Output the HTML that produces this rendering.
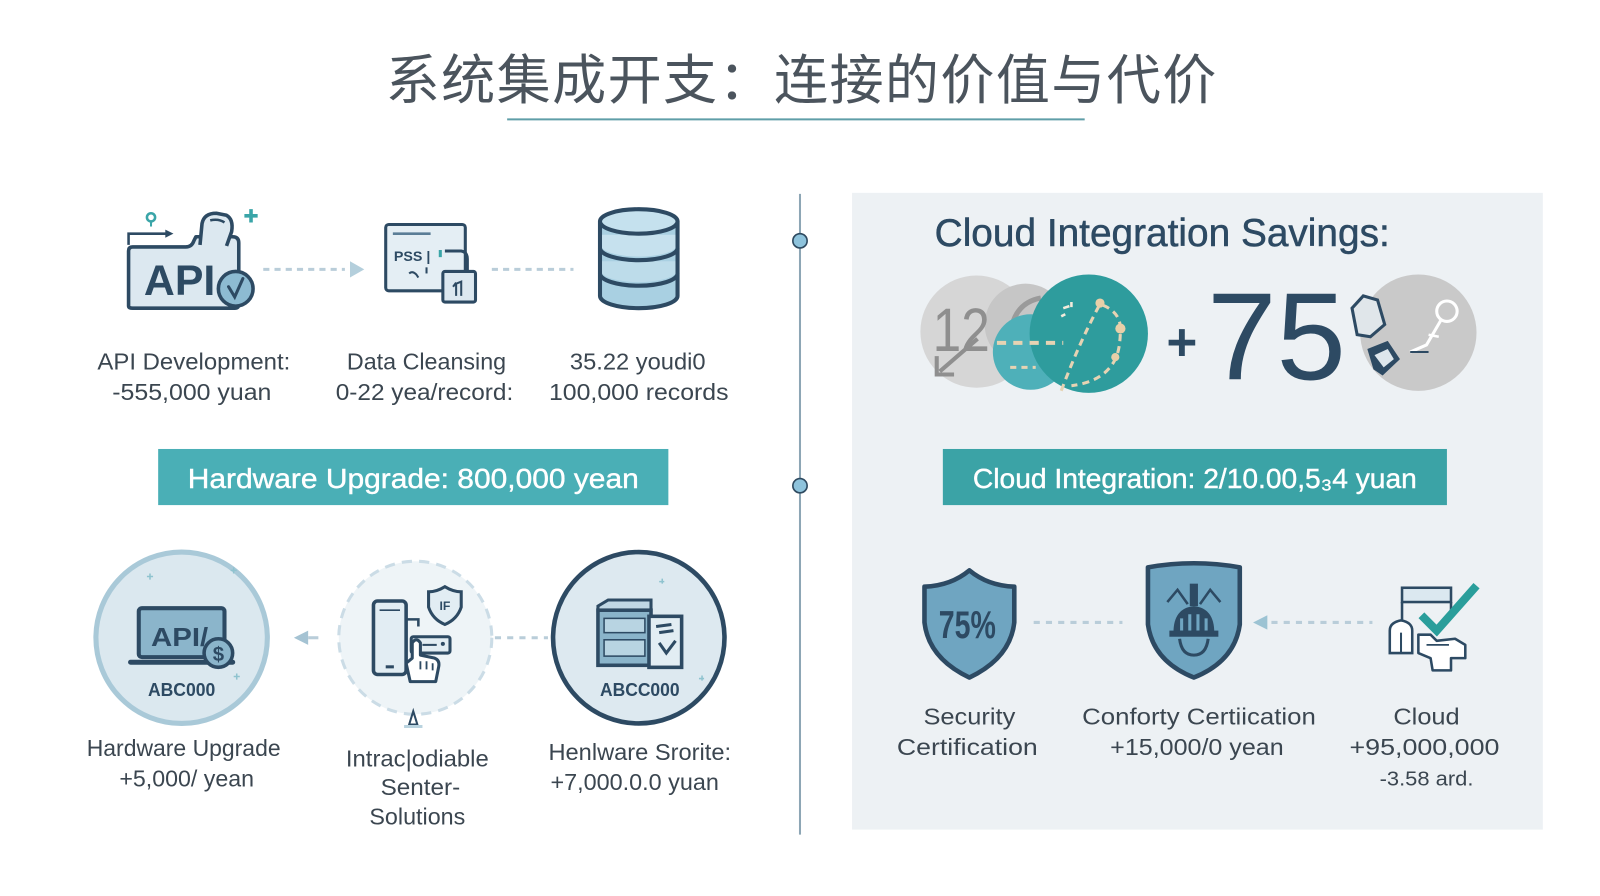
<!DOCTYPE html>
<html>
<head>
<meta charset="utf-8">
<style>
html,body{margin:0;padding:0;background:#fff;}
body{width:1600px;height:896px;overflow:hidden;}
svg{display:block;}
</style>
</head>
<body>
<svg width="1600" height="896" viewBox="0 0 1600 896" font-family="'Liberation Sans','DejaVu Sans',sans-serif">
<rect width="1600" height="896" fill="#ffffff"/>
<g transform="scale(1.0204)">

<!-- Title -->
<text x="378" y="97" font-size="53" textLength="814" lengthAdjust="spacing" fill="#4b545d" font-family="'Noto Sans CJK SC','WenQuanYi Zen Hei',sans-serif">系统集成开支：连接的价值与代价</text>
<line x1="497" y1="117" x2="1063" y2="117" stroke="#5f9ea8" stroke-width="2"/>

<!-- Right panel -->
<rect x="835" y="189" width="677" height="624" fill="#edf1f4"/>

<!-- Vertical divider -->
<line x1="784" y1="190" x2="784" y2="818" stroke="#8da6b5" stroke-width="2"/>
<circle cx="784" cy="236" r="7" fill="#8ec3dc" stroke="#2f4a60" stroke-width="1.6"/>
<circle cx="784" cy="476" r="7" fill="#8ec3dc" stroke="#2f4a60" stroke-width="1.6"/>

<!-- ===== Top-left icons ===== -->
<path d="M126,300 L126,246 Q126,242 130,242 L182,242 Q188,242 190,236 L192,232 L228,232 Q234,232 234,238 L234,298 Q234,302 230,302 L130,302 Q126,302 126,300Z" fill="#dce8f0" stroke="#2d4a63" stroke-width="3.5" stroke-linejoin="round"/>
<path d="M196,240 L198,219 Q200,209 212,209 L222,211 Q229,215 227,227 L222,241" fill="#dce8f0" stroke="#2d4a63" stroke-width="3.5" stroke-linejoin="round"/>
<path d="M206,216 Q214,214 220,218" fill="none" stroke="#2d4a63" stroke-width="2.5"/>
<text x="141" y="289" font-size="42" font-weight="bold" fill="#2d4a63" textLength="70" lengthAdjust="spacingAndGlyphs">API</text>
<circle cx="231" cy="283" r="17" fill="#8dbbd2" stroke="#2d4a63" stroke-width="3.5"/>
<path d="M224,281 L230,291 L238,273" stroke="#2d4a63" stroke-width="3" fill="none" stroke-linecap="round"/>
<path d="M126,240 L126,229 L164,229" stroke="#2d4a63" stroke-width="2.5" fill="none"/>
<path d="M162,225 L170,229 L162,233Z" fill="#2d4a63"/>
<path d="M246,205 V218 M239.5,211.5 H252.5" stroke="#3aa5a8" stroke-width="3.5"/>
<circle cx="148" cy="213" r="4" fill="none" stroke="#3aa5a8" stroke-width="2.5"/>
<line x1="148" y1="217" x2="148" y2="222" stroke="#3aa5a8" stroke-width="2"/>

<line x1="258" y1="264" x2="338" y2="264" stroke="#b9cdd9" stroke-width="3" stroke-dasharray="6,5"/>
<path d="M343,256 L357,264 L343,272Z" fill="#b4cfdc"/>

<rect x="378" y="220" width="78" height="65" rx="3" fill="#e4eef4" stroke="#2d4a63" stroke-width="3"/>
<line x1="385" y1="229" x2="422" y2="229" stroke="#5a7d96" stroke-width="2.5"/>
<text x="386" y="256" font-size="14" font-weight="bold" fill="#2d4a63">PSS |</text>
<rect x="430" y="245" width="3" height="7" fill="#3aa5a8"/>
<path d="M401,268 Q404,265 408,269 L410,272" stroke="#2d4a63" stroke-width="2" fill="none"/>
<line x1="418" y1="262" x2="418" y2="268" stroke="#2d4a63" stroke-width="2"/>
<path d="M436,246 L452,246 Q458,247 458,254 L458,268" fill="none" stroke="#2d4a63" stroke-width="3"/>
<rect x="434" y="266" width="32" height="30" rx="2" fill="#dce8f0" stroke="#2d4a63" stroke-width="3"/>
<path d="M447,290 L447,278 L452,276 L452,290 M444,281 L447,277" stroke="#2d4a63" stroke-width="2" fill="none"/>

<line x1="482" y1="264" x2="562" y2="264" stroke="#b9cdd9" stroke-width="3" stroke-dasharray="6,5"/>

<path d="M588,217 L588,290 A38,12 0 0 0 664,290 L664,217" fill="#a9d0e2" stroke="#2d4a63" stroke-width="4"/>
<path d="M590,230 L662,230 L662,243 A37,11 0 0 1 590,243Z" fill="#c6e1ee"/>
<path d="M590,256 L662,256 L662,268 A37,11 0 0 1 590,268Z" fill="#c6e1ee" opacity="0.7"/>
<path d="M588,243 A38,12 0 0 0 664,243" fill="none" stroke="#2d4a63" stroke-width="4"/>
<path d="M588,268 A38,12 0 0 0 664,268" fill="none" stroke="#2d4a63" stroke-width="4"/>
<ellipse cx="626" cy="217" rx="38" ry="12" fill="#c5e1ee" stroke="#2d4a63" stroke-width="4"/>

<g font-size="23" fill="#3b4650" text-anchor="middle" lengthAdjust="spacingAndGlyphs">
<text x="190" y="362" textLength="189" lengthAdjust="spacingAndGlyphs">API Development:</text>
<text x="188" y="392" textLength="156" lengthAdjust="spacingAndGlyphs">-555,000 yuan</text>
<text x="418" y="362" textLength="156" lengthAdjust="spacingAndGlyphs">Data Cleansing</text>
<text x="416" y="392" textLength="174" lengthAdjust="spacingAndGlyphs">0-22 yea/record:</text>
<text x="625" y="362" textLength="133" lengthAdjust="spacingAndGlyphs">35.22 youdi0</text>
<text x="626" y="392" textLength="176" lengthAdjust="spacingAndGlyphs">100,000 records</text>
</g>

<rect x="155" y="440" width="500" height="55" fill="#4aafb6"/>
<text x="405" y="478" text-anchor="middle" font-size="27" fill="#ffffff" stroke="#ffffff" stroke-width="0.4" textLength="442" lengthAdjust="spacingAndGlyphs">Hardware Upgrade: 800,000 yean</text>

<!-- ===== Bottom-left circles ===== -->
<circle cx="178" cy="625" r="84" fill="#dbe8ef" stroke="#a9c9d8" stroke-width="5"/>
<path d="M147,562 v6 M144,565 h6 M232,660 v6 M229,663 h6 M229,556 v6 M226,559 h6" stroke="#8fc3cf" stroke-width="1.5"/>
<rect x="136" y="596" width="84" height="48" rx="3" fill="#8bb5cb" stroke="#2d4a63" stroke-width="4"/>
<line x1="128" y1="649" x2="228" y2="649" stroke="#2d4a63" stroke-width="5" stroke-linecap="round"/>
<text x="148" y="633" font-size="25" font-weight="bold" fill="#2d4a63" textLength="56" lengthAdjust="spacingAndGlyphs">API/</text>
<circle cx="214" cy="640" r="14" fill="#8bb5cb" stroke="#2d4a63" stroke-width="3.5"/>
<text x="214" y="648" text-anchor="middle" font-size="20" font-weight="bold" fill="#2d4a63">$</text>
<text x="178" y="682" text-anchor="middle" font-size="18" font-weight="bold" fill="#2d4a63" textLength="66" lengthAdjust="spacingAndGlyphs">ABC000</text>

<path d="M302,618 L288,625 L302,632Z" fill="#a5c3d3"/>
<line x1="302" y1="625" x2="312" y2="625" stroke="#b9cdd9" stroke-width="3"/>

<circle cx="407" cy="625" r="75" fill="#eef4f7" stroke="#cbdce6" stroke-width="3" stroke-dasharray="10,7"/>
<rect x="366" y="589" width="32" height="72" rx="4" fill="#e2edf3" stroke="#2d4a63" stroke-width="3.5"/>
<line x1="372" y1="598" x2="392" y2="598" stroke="#2d4a63" stroke-width="1.5"/>
<rect x="378" y="652" width="8" height="3" fill="#2d4a63"/>
<path d="M436,575 Q428,580 420,580 L420,595 Q424,607 436,612 Q448,607 452,595 L452,580 Q444,580 436,575Z" fill="#e2edf3" stroke="#2d4a63" stroke-width="3"/>
<text x="436" y="598" text-anchor="middle" font-size="12" font-weight="bold" fill="#2d4a63">IF</text>
<path d="M398,607 L410,607 L410,614" fill="none" stroke="#2d4a63" stroke-width="2.5"/>
<rect x="403" y="624" width="38" height="16" rx="2" fill="#e2edf3" stroke="#2d4a63" stroke-width="3"/>
<line x1="414" y1="632" x2="428" y2="632" stroke="#2d4a63" stroke-width="2"/>
<circle cx="434" cy="631" r="2" fill="#2d4a63"/>
<path d="M402,668 L398,650 L404,645 L404,630 Q408,624 412,630 L412,642 L426,645 Q431,647 430,653 L427,668 Z" fill="#ffffff" stroke="#2d4a63" stroke-width="3" stroke-linejoin="round"/>
<path d="M412,648 L412,656 M418,648 L418,656 M424,650 L424,657" stroke="#2d4a63" stroke-width="1.8"/>
<path d="M405,697 L401,710 L409,710Z" fill="none" stroke="#2d4a63" stroke-width="2"/>
<line x1="396" y1="712" x2="414" y2="712" stroke="#b9d3df" stroke-width="3"/>

<line x1="485" y1="625" x2="537" y2="625" stroke="#b9cdd9" stroke-width="3" stroke-dasharray="6,6"/>

<circle cx="626" cy="625" r="84" fill="#dde9f0" stroke="#2d4a63" stroke-width="4.5"/>
<path d="M649,567 v5 M646,570 h5 M688,662 v5 M685,665 h5" stroke="#8fc3cf" stroke-width="1.5"/>
<path d="M586,600 L586,594 L596,588 L638,588 L638,600" fill="#c0d7e4" stroke="#2d4a63" stroke-width="3"/>
<rect x="586" y="598" width="52" height="54" fill="#8ab4ca" stroke="#2d4a63" stroke-width="3.5"/>
<rect x="592" y="606" width="40" height="14" fill="#b8d4e2" stroke="#2d4a63" stroke-width="1.5"/>
<rect x="592" y="627" width="40" height="16" fill="#b8d4e2" stroke="#2d4a63" stroke-width="1.5"/>
<rect x="636" y="604" width="32" height="50" fill="#e2edf3" stroke="#2d4a63" stroke-width="3.5"/>
<path d="M643,614 L658,612 M646,620 L660,618 M646,630 L653,640 L662,628" stroke="#2d4a63" stroke-width="3" fill="none"/>
<text x="627" y="682" text-anchor="middle" font-size="18" font-weight="bold" fill="#2d4a63" textLength="78" lengthAdjust="spacingAndGlyphs">ABCC000</text>

<g font-size="23" fill="#3b4650" text-anchor="middle">
<text x="180" y="741" textLength="190" lengthAdjust="spacingAndGlyphs">Hardware Upgrade</text>
<text x="183" y="771" textLength="132" lengthAdjust="spacingAndGlyphs">+5,000/ yean</text>
<text x="409" y="751" textLength="140" lengthAdjust="spacingAndGlyphs">Intrac|odiable</text>
<text x="412" y="779" textLength="78" lengthAdjust="spacingAndGlyphs">Senter-</text>
<text x="409" y="808" textLength="94" lengthAdjust="spacingAndGlyphs">Solutions</text>
<text x="627" y="745" textLength="179" lengthAdjust="spacingAndGlyphs">Henlware Srorite:</text>
<text x="622" y="774" textLength="165" lengthAdjust="spacingAndGlyphs">+7,000.0.0 yuan</text>
</g>

<!-- ===== Right panel content ===== -->
<text x="916" y="241" font-size="38" fill="#2d4a63" stroke="#2d4a63" stroke-width="0.5" textLength="446" lengthAdjust="spacingAndGlyphs">Cloud Integration Savings:</text>

<circle cx="957" cy="325" r="55" fill="#d6d6d6"/>
<circle cx="1005" cy="318" r="40" fill="#c6c6c6"/>
<text x="914" y="344" font-size="60" fill="#8f8f8f" textLength="56" lengthAdjust="spacingAndGlyphs">12</text>
<path d="M958,332 L921,364" stroke="#8f8f8f" stroke-width="4"/>
<path d="M918,349 L918,367 L935,367" stroke="#8f8f8f" stroke-width="4" fill="none"/>
<path d="M1020,292 Q998,296 992,318" stroke="#9a9a9a" stroke-width="5" fill="none"/>
<circle cx="1010" cy="345" r="37" fill="#4eb0b9"/>
<circle cx="1067" cy="327" r="58" fill="#2e9c9d"/>
<path d="M977,336 L1042,336" stroke="#e6d3b3" stroke-width="4" stroke-dasharray="9,7"/>
<path d="M990,360 L1015,360" stroke="#e6d3b3" stroke-width="3" stroke-dasharray="6,5"/>
<path d="M1040,383 Q1058,335 1078,298 Q1098,305 1098,322 Q1098,342 1093,352 Q1082,374 1050,378" fill="none" stroke="#e6d3b3" stroke-width="3" stroke-dasharray="7,5"/>
<circle cx="1078" cy="297" r="4.5" fill="#e8cfa8"/>
<circle cx="1098" cy="322" r="5" fill="#e8cfa8"/>
<circle cx="1093" cy="350" r="4" fill="#e8cfa8"/>
<path d="M1042,302 L1048,300 M1040,310 L1044,308 M1050,296 L1050,301" stroke="#f3eadb" stroke-width="2.5"/>

<text x="1143" y="353" font-size="52" font-weight="bold" fill="#2d4a63">+</text>
<text x="1183" y="372" font-size="122" fill="#2d4a63" textLength="136" lengthAdjust="spacingAndGlyphs">75</text>

<circle cx="1390" cy="326" r="57" fill="#c9c9c9"/>
<path d="M1325,302 L1336,290 L1350,294 L1357,318 L1343,330 L1330,328 Z" fill="#e0e6ea" stroke="#2d4a63" stroke-width="3"/>
<path d="M1340,342 L1360,334 L1372,352 L1355,368 L1346,362Z" fill="#2d4a63"/>
<path d="M1347,348 L1360,342 L1366,352 L1356,360Z" fill="#dde6ec"/>
<circle cx="1418" cy="305" r="10" fill="none" stroke="#ffffff" stroke-width="3"/>
<path d="M1412,314 L1398,338 L1382,345" stroke="#ffffff" stroke-width="3" fill="none"/>
<path d="M1400,328 L1410,330" stroke="#ffffff" stroke-width="2.5"/>
<path d="M1382,345 L1400,345" stroke="#2d4a63" stroke-width="2"/>

<rect x="924" y="440" width="494" height="55" fill="#3ba3a6"/>
<text x="1171" y="478" text-anchor="middle" font-size="27" fill="#ffffff" stroke="#ffffff" stroke-width="0.4" textLength="435" lengthAdjust="spacingAndGlyphs">Cloud Integration: 2/10.00,5₃4 yuan</text>

<path d="M950,559 Q932,574 906,575 L906,610 Q910,645 950,664 Q990,645 994,610 L994,575 Q968,574 950,559Z" fill="#6fa5c1" stroke="#2d4a63" stroke-width="4.5" stroke-linejoin="round"/>
<text x="948" y="625" text-anchor="middle" font-size="38" font-weight="bold" fill="#2d4a63" textLength="56" lengthAdjust="spacingAndGlyphs">75%</text>

<line x1="1013" y1="610" x2="1100" y2="610" stroke="#b9cdd9" stroke-width="3" stroke-dasharray="6,6"/>

<path d="M1125,556 Q1170,548 1215,556 L1215,612 Q1210,648 1170,664 Q1130,648 1125,612Z" fill="#6fa5c1" stroke="#2d4a63" stroke-width="4.5" stroke-linejoin="round"/>
<path d="M1144,590 L1154,578 L1164,592 M1196,590 L1186,578 L1176,592" stroke="#2d4a63" stroke-width="2.5" fill="none"/>
<rect x="1166" y="572" width="8" height="22" fill="#2d4a63"/>
<path d="M1150,620 Q1150,596 1170,594 Q1190,596 1190,620Z" fill="#2d4a63"/>
<path d="M1158,618 L1158,606 M1166,618 L1166,602 M1174,618 L1174,602 M1182,618 L1182,606" stroke="#6fa5c1" stroke-width="3"/>
<rect x="1146" y="618" width="48" height="6" fill="#2d4a63"/>
<path d="M1156,626 Q1158,642 1170,642 Q1182,642 1184,626" fill="none" stroke="#2d4a63" stroke-width="3"/>

<path d="M1242,603 L1228,610 L1242,617Z" fill="#9cc3d3"/>
<line x1="1246" y1="610" x2="1345" y2="610" stroke="#b9cdd9" stroke-width="3" stroke-dasharray="6,6"/>

<rect x="1374" y="576" width="48" height="14" fill="#dbe8f0" stroke="#2d4a63" stroke-width="2.5"/>
<path d="M1374,590 L1374,608 M1422,590 L1422,600" stroke="#2d4a63" stroke-width="2.5"/>
<path d="M1362,640 L1362,618 Q1362,610 1373,608 Q1384,610 1384,618 L1384,640Z" fill="#ffffff" stroke="#2d4a63" stroke-width="2.5"/>
<path d="M1373,620 L1373,640" stroke="#2d4a63" stroke-width="2"/>
<path d="M1390,640 L1390,622 L1402,622 L1408,628 L1426,626 L1436,632 L1436,645 L1422,645 L1422,657 L1404,657 L1402,645 Z" fill="#ffffff" stroke="#2d4a63" stroke-width="2.5" stroke-linejoin="round"/>
<path d="M1398,632 L1420,632" stroke="#2d4a63" stroke-width="1.8"/>
<path d="M1393,603 L1408,618 L1447,574" stroke="#2a9e9b" stroke-width="8" fill="none"/>

<g font-size="23" fill="#3b4650" text-anchor="middle">
<text x="950" y="710" textLength="90" lengthAdjust="spacingAndGlyphs">Security</text>
<text x="948" y="740" textLength="138" lengthAdjust="spacingAndGlyphs">Certification</text>
<text x="1175" y="710" textLength="229" lengthAdjust="spacingAndGlyphs">Conforty Certiication</text>
<text x="1173" y="740" textLength="170" lengthAdjust="spacingAndGlyphs">+15,000/0 yean</text>
<text x="1398" y="710" textLength="65" lengthAdjust="spacingAndGlyphs">Cloud</text>
<text x="1396" y="740" textLength="147" lengthAdjust="spacingAndGlyphs">+95,000,000</text>
<text x="1398" y="770" font-size="20" textLength="92" lengthAdjust="spacingAndGlyphs">-3.58 ard.</text>
</g>
</g>
</svg>
</body>
</html>
